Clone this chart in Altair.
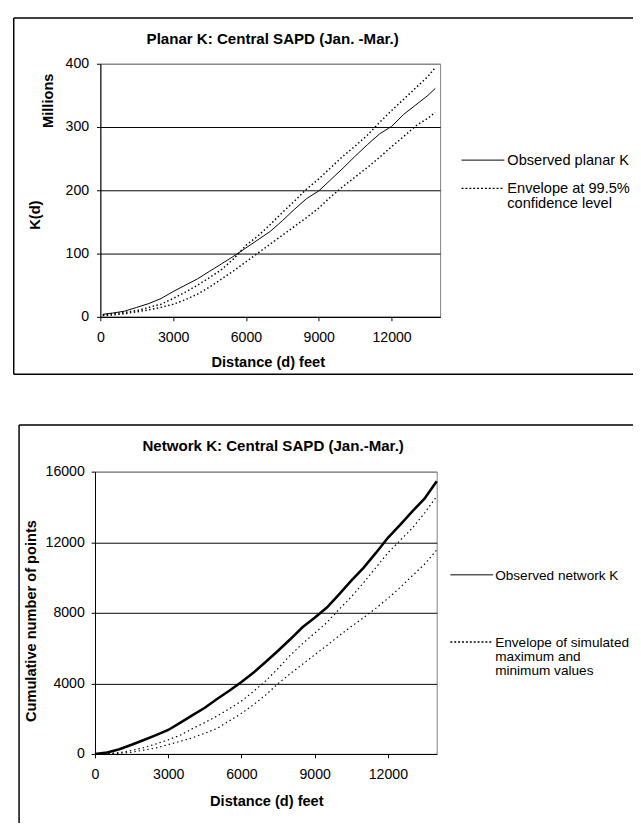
import altair as alt
import pandas as pd

FONT = "Liberation Sans"

# ---------------- Planar K (values in millions) ----------------
planar_d = [100, 500, 1000, 1500, 2000, 2500, 3000, 3500, 4000, 4500, 5000, 5500, 6000, 6500,
            7000, 7500, 8000, 8500, 9000, 9500, 10000, 10500, 11000, 11500, 12000, 12500,
            13000, 13500, 13800]
planar_obs = [4, 6, 9, 15, 21, 29, 40, 50, 60, 72, 84, 96, 109, 122, 135, 152, 170, 187, 199,
              217, 235, 254, 272, 289, 301, 320, 335, 350, 361]
planar_hi = [3, 5, 7, 10, 15, 20, 29, 39, 50, 62, 75, 92, 113, 128, 146, 165, 183, 202, 218,
             236, 254, 270, 287, 307, 326, 344, 362, 380, 394]
planar_lo = [2, 3, 5, 8, 11, 15, 20, 27, 36, 47, 60, 73, 87, 101, 115, 129, 143, 157, 172,
             190, 206, 221, 236, 252, 269, 285, 302, 314, 323]

# ---------------- Network K (cumulative number of points) ----------------
net_d = [0, 500, 1000, 1500, 2000, 2500, 3000, 3500, 4000, 4500, 5000, 5500, 6000, 6500,
         7000, 7500, 8000, 8500, 9000, 9500, 10000, 10500, 11000, 11500, 12000, 12500,
         13000, 13500, 14000]
net_obs = [0, 90, 270, 520, 790, 1070, 1360, 1780, 2200, 2620, 3120, 3580, 4080, 4620, 5230,
           5850, 6500, 7180, 7720, 8300, 9050, 9820, 10550, 11380, 12250, 12990, 13750,
           14470, 15450]
net_hi = [0, 20, 80, 200, 360, 570, 800, 1070, 1440, 1780, 2150, 2560, 3000, 3550, 4150,
          4850, 5600, 6250, 6850, 7450, 8200, 8900, 9700, 10550, 11400, 12100, 12800,
          13650, 14600]
net_lo = [0, 10, 40, 100, 220, 340, 530, 720, 920, 1170, 1450, 1870, 2300, 2800, 3350,
          3990, 4550, 5080, 5620, 6150, 6700, 7220, 7720, 8250, 8820, 9430, 10100, 10750,
          11560]

x_ticks = [0, 3000, 6000, 9000, 12000]
planar_y_ticks = [0, 100, 200, 300, 400]
net_y_ticks = [0, 4000, 8000, 12000, 16000]

one = pd.DataFrame({"v": [0]})


def text(t, x, y, size=15, bold=False, angle=0, align="center", baseline="middle", lh=None):
    kw = dict(text=t, font=FONT, fontSize=size, color="black", align=align,
              baseline=baseline, angle=angle)
    if bold:
        kw["fontWeight"] = "bold"
    if lh is not None:
        kw["lineHeight"] = lh
    return alt.Chart(one).mark_text(**kw).encode(x=alt.value(x), y=alt.value(y))


def rule(x=None, x2=None, y=None, y2=None, width=1.5, dash=None):
    kw = dict(color="black", strokeWidth=width)
    if dash is not None:
        kw["strokeDash"] = dash
    enc = {}
    for k, v in (("x", x), ("x2", x2), ("y", y), ("y2", y2)):
        if v is not None:
            enc[k] = alt.value(v)
    return alt.Chart(one).mark_rule(**kw).encode(**enc)


def panel(d, obs, hi, lo, ymax, yticks, ytitle, g):
    df_obs = pd.DataFrame({"d": d, "k": obs})
    df_env = pd.DataFrame({"d": d + d, "k": hi + lo,
                           "env": ["upper"] * len(d) + ["lower"] * len(d)})
    X = alt.X("d:Q", scale=alt.Scale(domain=[0, 14000], nice=False, zero=False),
              axis=alt.Axis(values=x_ticks, format="d", title="Distance (d) feet",
                            titleX=g["xt_x"], titleY=g["xt_y"], titleAlign="center",
                            titleBaseline="middle", titleFont=FONT, titleFontSize=15,
                            titleFontWeight="bold", titleColor="black",
                            grid=False, tickSize=4, labelPadding=17,
                            labelBaseline="middle", labelFlush=False,
                            labelOverlap=False))
    Y = alt.Y("k:Q", scale=alt.Scale(domain=[0, ymax], nice=False),
              axis=alt.Axis(values=yticks, format="d", title=ytitle,
                            titleX=g["yt_x"], titleY=g["yt_y"], titleAngle=270,
                            titleAlign="center", titleBaseline="middle", titleFont=FONT,
                            titleFontSize=15, titleFontWeight="bold", titleColor="black",
                            grid=True, tickSize=4, labelPadding=g["ylab_pad"],
                            labelFlush=False, labelOverlap=False,
                            gridColor={"condition": {"test": f"datum.value >= {ymax}",
                                                     "value": "#808080"},
                                       "value": "black"}))
    env = alt.Chart(df_env).mark_line(color="black", strokeWidth=g["env_w"],
                                      strokeDash=g["env_dash"]).encode(
        x=X, y=Y, detail="env:N")
    obs_l = alt.Chart(df_obs).mark_line(color="black", strokeWidth=g["obs_w"]).encode(x=X, y=Y)

    layers = [
        rule(x=g["bl"], y=g["bt"], y2=g["bb"]),
        rule(x=g["bl"], x2=g["br"], y=g["bt"]),
    ]
    if g.get("bottom_edge", True):
        layers.append(rule(x=g["bl"], x2=g["br"], y=g["bb"]))
    layers += [env, obs_l,
               text(g["title"], g["ti_x"], g["ti_y"], size=15.5, bold=True)]
    for extra in g.get("extra", []):
        layers.append(extra)
    # legend
    lx0, lx1 = g["leg_x"]
    fs = g["leg_fs"]
    layers += [
        rule(x=lx0, x2=lx1, y=g["leg_y1"], width=1),
        rule(x=lx0, x2=lx1, y=g["leg_y2"], width=1.5, dash=[2, 2]),
        text(g["leg_t1"], g["leg_tx"], g["leg_y1"] + 5, size=fs, align="left",
             baseline="alphabetic"),
        text(g["leg_t2"], g["leg_tx"], g["leg_y2"] + 5, size=fs, align="left",
             baseline="alphabetic", lh=g["leg_lh"]),
    ]
    return alt.layer(*layers).properties(width=g["w"], height=g["h"])


top_geom = dict(
    w=349, h=260, bl=-89, bt=-47, bb=319, br=599,
    title="Planar K: Central SAPD (Jan. -Mar.)", ti_x=177, ti_y=-25,
    xt_x=172, xt_y=46, yt_x=-68, yt_y=155, ylab_pad=8,
    obs_w=1, env_w=1.5, env_dash=[1.5, 2.5],
    leg_x=(371, 415), leg_y1=99, leg_y2=128, leg_tx=418, leg_lh=15, leg_fs=15,
    leg_t1="Observed planar K", leg_t2=["Envelope at 99.5%", "confidence level"],
    extra=[text("Millions", -54, 38, bold=True, angle=270)],
)

bot_geom = dict(
    w=351, h=290, bl=-78, bt=-48, bb=361, br=610, bottom_edge=False,
    title="Network K: Central SAPD (Jan.-Mar.)", ti_x=183, ti_y=-26,
    xt_x=176, xt_y=48, yt_x=-66, yt_y=153, ylab_pad=7,
    obs_w=2.6, env_w=1.2, env_dash=[1.5, 3],
    leg_x=(365, 409), leg_y1=106, leg_y2=175, leg_tx=411, leg_lh=14.5, leg_fs=14,
    leg_t1="Observed network K",
    leg_t2=["Envelope of simulated", "maximum and", "minimum values"],
)

top = panel(planar_d, planar_obs, planar_hi, planar_lo, 400, planar_y_ticks, "K(d)", top_geom)
bottom = panel(net_d, net_obs, net_hi, net_lo, 16000, net_y_ticks,
               "Cumulative number of points", bot_geom)

chart = alt.vconcat(top, bottom, spacing=48, center=True).properties(
    padding={"left": 4, "top": -3, "right": -59, "bottom": 0},
    background="white",
).configure_view(
    stroke="#808080", strokeWidth=1
).configure_axis(
    domainColor="black", tickColor="black", labelColor="black", labelFont=FONT,
    labelFontSize=14.5, domainWidth=1, tickWidth=1, gridWidth=1
)

chart.save("out.html", embed_options={"renderer": "svg", "actions": False})
